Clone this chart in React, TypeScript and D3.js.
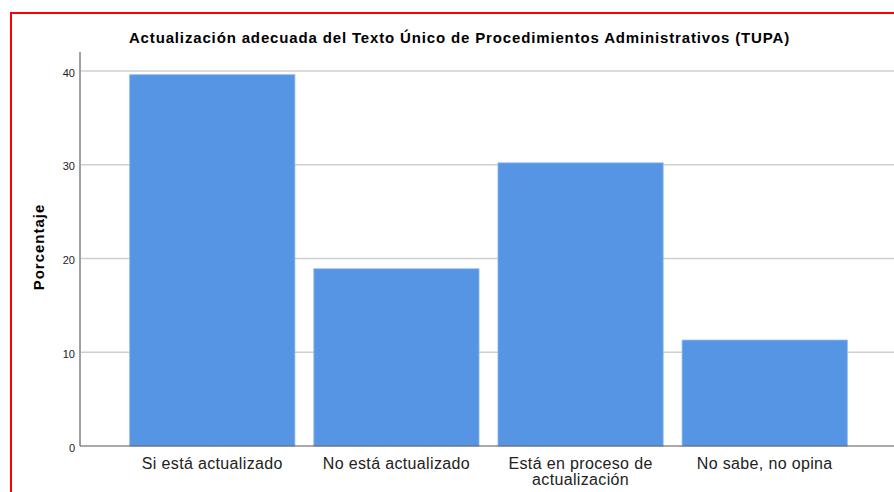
import React from 'react';
import * as d3 from 'd3';

const categories = ['Si está actualizado', 'No está actualizado', 'Está en proceso de actualización', 'No sabe, no opina'];
const categoryLines = [['Si está actualizado'], ['No está actualizado'], ['Está en proceso de', 'actualización'], ['No sabe, no opina']];
const percentages = [39.6, 18.9, 30.2, 11.3];
const yTicks = [0, 10, 20, 30, 40];

const W = 894;
const H = 492;
const FONT = 'Arial, "Liberation Sans", sans-serif';

export default function App() {
  const x = d3.scaleBand<string>()
    .domain(categories)
    .range([80, 897])
    .paddingInner(0.103)
    .paddingOuter(0.27);

  const y = d3.scaleLinear()
    .domain([0, 40])
    .range([446, 71]);

  return (
    <svg width={W} height={H} style={{ position: 'absolute', left: 0, top: 0, background: '#fff' }}>
      <rect x={0} y={0} width={W} height={H} fill="#fff" />
      {/* red frame, cut off at right and bottom */}
      <rect x={11} y={13} width={900} height={500} fill="none" stroke="#f00" strokeWidth={2} />

      <text x={459.5} y={43} textAnchor="middle" fontFamily={FONT} fontSize={15} fontWeight="bold"
        letterSpacing={0.85} fill="#000">
        Actualización adecuada del Texto Único de Procedimientos Administrativos (TUPA)
      </text>

      {/* gridlines */}
      {yTicks.filter(t => t > 0).map(t => (
        <line key={'g' + t} x1={81} x2={W} y1={y(t)} y2={y(t)} stroke="#d0d0d0" strokeWidth={1.5} />
      ))}

      {/* bars */}
      {categories.map((c, i) => (
        <rect key={c} x={x(c)} y={y(percentages[i])} width={x.bandwidth()} height={y(0) - y(percentages[i])}
          fill="#5595e3" stroke="#8bb6ec" strokeWidth={0.8} />
      ))}

      {/* y axis */}
      <line x1={80} x2={80} y1={52} y2={y(0)} stroke="#a0a0a0" strokeWidth={2} />
      {yTicks.map(t => (
        <text key={'t' + t} x={75} y={y(t) + 5.5} textAnchor="end" fontFamily={FONT} fontSize={11} fill="#222">{t}</text>
      ))}
      <text transform={`translate(44,247) rotate(-90)`} textAnchor="middle" fontFamily={FONT} fontSize={15}
        fontWeight="bold" letterSpacing={1} fill="#000">Porcentaje</text>

      {/* x axis */}
      <line x1={80} x2={W} y1={y(0)} y2={y(0)} stroke="#555" strokeWidth={1.2} />
      {categories.map((c, i) => (
        <text key={'l' + c} textAnchor="middle" fontFamily={FONT} fontSize={16} letterSpacing={0.35} fill="#222">
          {categoryLines[i].map((ln, j) => (
            <tspan key={j} x={(x(c) ?? 0) + x.bandwidth() / 2} y={469 + j * 16}>{ln}</tspan>
          ))}
        </text>
      ))}
    </svg>
  );
}
